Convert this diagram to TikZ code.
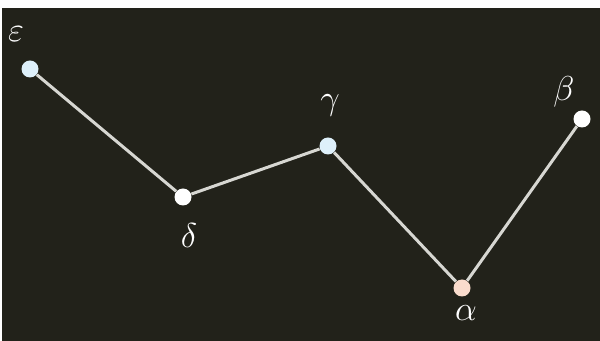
\documentclass[tikz,border=0pt]{standalone}
\usepackage{amsmath, amssymb}
\usepackage{tikz}
\usetikzlibrary{positioning}

\definecolor{board}{RGB}{34,34,26}
\definecolor{chalk}{RGB}{215,215,210}
\definecolor{icy}{RGB}{222,240,250}
\definecolor{peach}{RGB}{250,220,205}

\begin{document}
\begin{tikzpicture}[
  x=0.5pt, y=-0.5pt,
  dot/.style={circle, draw=none, fill=white, minimum size=8.5pt, inner sep=0pt},
  lab/.style={text=white, font=\fontsize{19}{21}\selectfont},
  edge/.style={draw=chalk, line width=1.5pt}
]
  \fill[white] (0,0) rectangle (600,341);
  \fill[board] (2,8) rectangle (600,341);
  \useasboundingbox (0,0) rectangle (600,341);

  \node[dot, fill=icy]   (eps) at (30,69)   {};
  \node[dot]             (del) at (183,197) {};
  \node[dot, fill=icy]   (gam) at (328,146) {};
  \node[dot, fill=peach] (alp) at (462,288) {};
  \node[dot]             (bet) at (582,119) {};

  \draw[edge] (eps) -- (del);
  \draw[edge] (del) -- (gam);
  \draw[edge] (gam) -- (alp);
  \draw[edge] (alp) -- (bet);

  % labels
  \node[lab] (epslab) at (16,34)  {$\varepsilon$};
  \node[lab] (dellab) at (189,236) {$\delta$};
  \node[lab] (gamlab) at (330,105) {$\gamma$};
  \node[lab] (alplab) at (466,313) {$\alpha$};
  \node[lab] (betlab) at (564,92)  {$\beta$};
\end{tikzpicture}
\end{document}
